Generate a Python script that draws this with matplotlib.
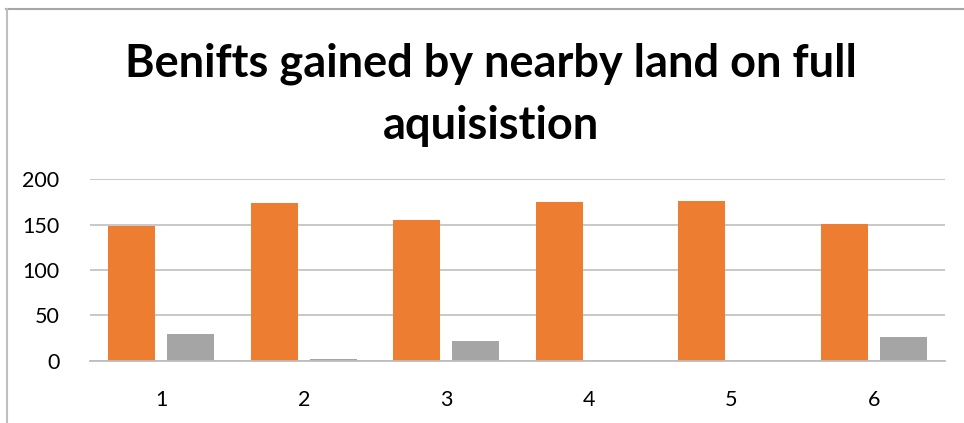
import matplotlib
matplotlib.use("Agg")
import matplotlib.pyplot as plt
from matplotlib.lines import Line2D
import numpy as np

categories = ["1", "2", "3", "4", "5", "6"]
series_a = [148, 174, 155, 175, 176, 151]
series_b = [29, 2, 22, 1, 0, 26]
y_ticks = [0, 50, 100, 150, 200]
title_lines = ["Benifts gained by nearby land on full", "aquisistion"]

plt.rcParams['font.family'] = ['Lato', 'DejaVu Sans']

W, H = 964, 423
fig = plt.figure(figsize=(W / 100, H / 100), dpi=100)
ax = fig.add_axes([90 / W, 1 - 360.7 / H, (945 - 90) / W, (360.7 - 179.3) / H])

x = np.arange(len(categories))
bw = 0.33
off = 0.206
ax.bar(x - off, series_a, width=bw, color="#ED7D31", zorder=3)
ax.bar(x + off, series_b, width=bw, color="#A5A5A5", zorder=3)

ax.set_xlim(-0.5, len(categories) - 0.5)
ax.set_ylim(0, 200)
ax.set_yticks(y_ticks)
ax.set_yticklabels([str(v) for v in y_ticks])
ax.set_xticks(x)
ax.set_xticklabels(categories)
ax.tick_params(axis="y", length=0, pad=22, labelsize=15.5)
ax.tick_params(axis="x", length=0, pad=21, labelsize=15.5)
ax.grid(axis="y", color="#C4C4C4", linewidth=1.3, zorder=0)
for s in ["top", "right", "left"]:
    ax.spines[s].set_visible(False)
ax.spines["bottom"].set_color("#BDBDBD")
ax.spines["bottom"].set_linewidth(1.3)
ax.spines["bottom"].set_zorder(4)

fig.text(491 / W, 1 - 64 / H, title_lines[0], ha="center", va="center",
         fontsize=32.5, fontweight="bold", color="black")
fig.text(491 / W, 1 - 126 / H, title_lines[1], ha="center", va="center",
         fontsize=32.5, fontweight="bold", color="black")

# chart border (top and left edges visible)
fig.add_artist(Line2D([6 / W, 1], [1 - 9 / H, 1 - 9 / H], transform=fig.transFigure,
                      color="#A6A6A6", linewidth=1.5))
fig.add_artist(Line2D([6.5 / W, 6.5 / W], [0, 1 - 9 / H], transform=fig.transFigure,
                      color="#BFBFBF", linewidth=1.5))

fig.savefig("out.png", dpi=100)
